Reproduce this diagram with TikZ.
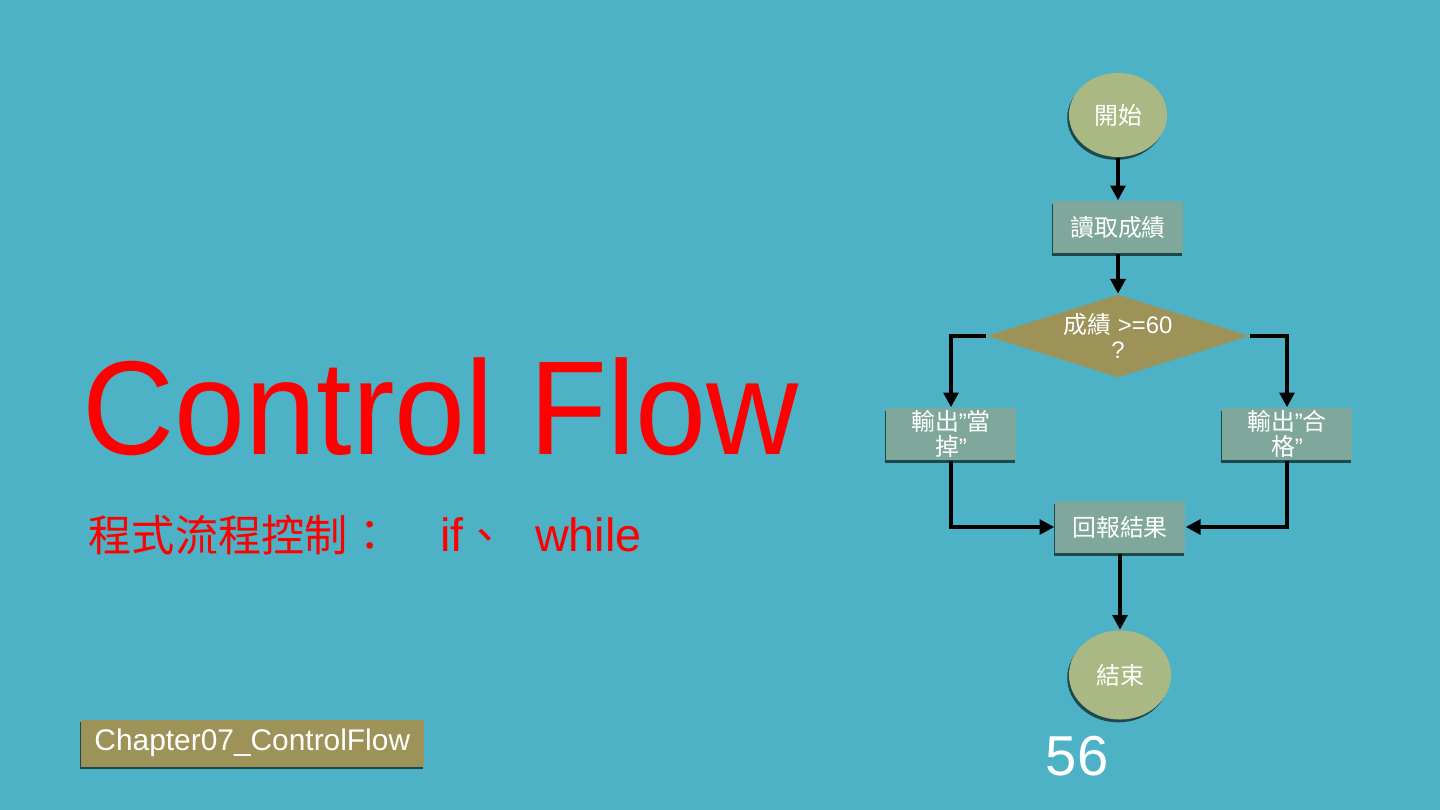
\documentclass[tikz,border=0pt]{standalone}
\usepackage{fontspec}
\setmainfont{Liberation Sans}
\newfontfamily\cjk{Noto Sans CJK TC}
\usetikzlibrary{shapes.geometric,arrows.meta,shadows}
\definecolor{slidebg}{RGB}{78,178,199}
\definecolor{ovalc}{RGB}{170,185,132}
\definecolor{boxc}{RGB}{127,167,156}
\definecolor{olivec}{RGB}{157,146,88}
\definecolor{shadowc}{RGB}{28,72,78}
\tikzset{
  flowtext/.style={text=white, font=\fontsize{6.8}{7.2}\selectfont},
  oval/.style={ellipse, fill=ovalc, flowtext, inner sep=0pt,
    drop shadow={shadow xshift=-0.5pt, shadow yshift=-0.8pt, fill=shadowc, opacity=1}},
  proc/.style={rectangle, fill=boxc, flowtext, inner sep=0pt, align=center,
    minimum width=1.30cm, minimum height=0.52cm,
    drop shadow={shadow xshift=-0.3pt, shadow yshift=-0.8pt, fill=shadowc, opacity=1}},
  decision/.style={diamond, fill=olivec, inner sep=0pt,
    minimum width=2.63cm, minimum height=0.83cm},
  flow/.style={line width=1.1pt, -{Triangle[length=4.2pt,width=4.2pt]}}
}
\begin{document}
\begin{tikzpicture}[x=0.01cm, y=-0.01cm]
\useasboundingbox (0,0) rectangle (1440,810);
\fill[slidebg] (0,0) rectangle (1440,810);
% title and subtitle
\node[anchor=base west, inner sep=0pt, text=red, font=\fontsize{38}{44}\selectfont] (title) at (82,455) {\scalebox{0.955}[1]{Control Flow}};
\node[anchor=base west, inner sep=0pt, text=red, font=\fontsize{13.3}{15}\selectfont] (sub) at (88,551)
  {{\cjk\fontsize{12.3}{15}\selectfont 程式流程控制：}\hspace{0.49cm}if{\cjk\fontsize{12.3}{15}\selectfont 、}\hspace{0.28cm}while};
% flowchart
\node[oval, minimum width=0.98cm, minimum height=0.84cm] (start) at (1118,115) {\cjk 開始};
\node[proc] (read) at (1118,227) {\cjk 讀取成績};
\node[decision] (check) at (1118,336) {};
\node[flowtext, align=center, inner sep=0pt] (checktxt) at (1118,336) {{\cjk 成績} >=60\\?};
\node[proc] (fail) at (951,434) {{\cjk 輸出}”{\cjk 當}\\{\cjk 掉}”};
\node[proc] (pass) at (1287,434) {{\cjk 輸出}”{\cjk 合}\\{\cjk 格}”};
\node[proc] (report) at (1120,527) {\cjk 回報結果};
\node[oval, minimum width=1.02cm, minimum height=0.89cm] (stop) at (1120,675) {\cjk 結束};
\draw[flow] (start) -- (read);
\draw[flow] (read) -- (check);
\draw[flow] (check.west) -| (fail);
\draw[flow] (check.east) -| (pass);
\draw[flow] (fail) |- (report);
\draw[flow] (pass) |- (report);
\draw[flow] (report) -- (stop);
% footer
\node[anchor=north west, fill=olivec, text=white, minimum width=3.43cm, minimum height=0.47cm, inner sep=0pt,
  font=\fontsize{8.5}{10}\selectfont,
  drop shadow={shadow xshift=-0.3pt, shadow yshift=-0.7pt, fill=shadowc, opacity=1}] (chap) at (80,719) {\raisebox{-0.03cm}{Chapter07\_ControlFlow}};
\node[anchor=base west, inner sep=0pt, text=white, font=\fontsize{16}{19}\selectfont] (page) at (1045,775) {56};
\end{tikzpicture}
\end{document}
